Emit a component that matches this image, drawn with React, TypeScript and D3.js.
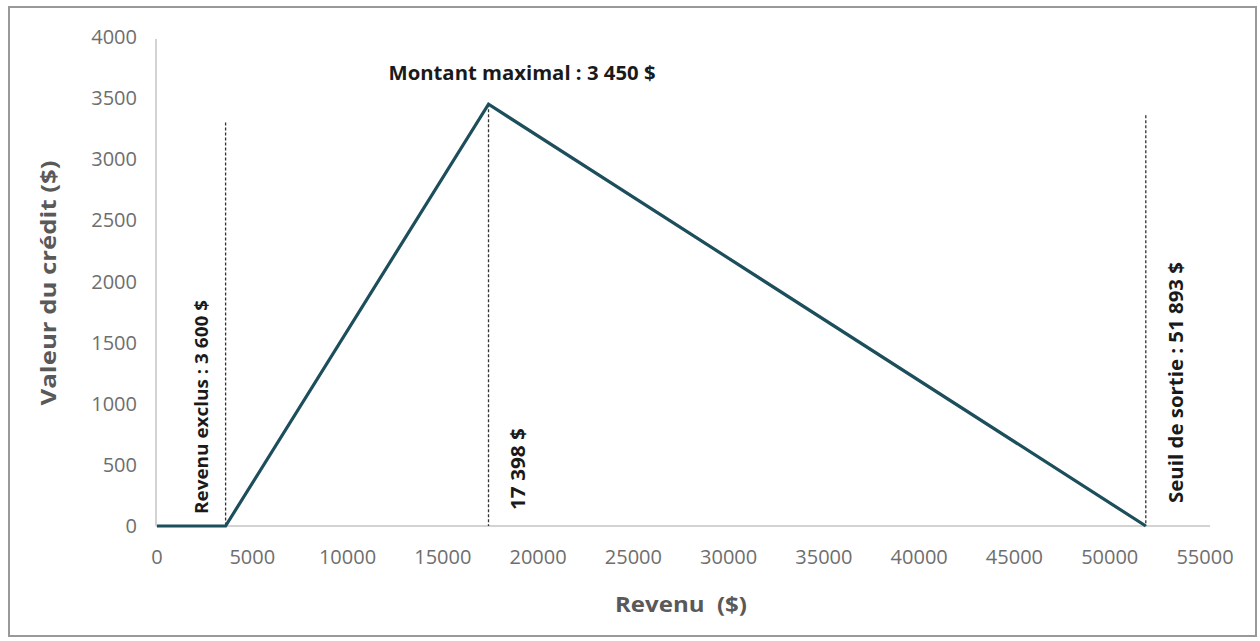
import React from "react";
import * as d3 from "d3";

const incomes = [0, 3600, 17398, 51893];
const credits = [0, 0, 3450, 0];

const refX = [3600, 17398, 51893];
const refTop = [3300, 3450, 3360];
const refLabels = ["Revenu exclus : 3 600 $", "17 398 $", "Seuil de sortie : 51 893 $"];

const xTicks = d3.range(0, 55001, 5000);
const yTicks = d3.range(0, 4001, 500);

const peakLabel = "Montant maximal : 3 450 $";
const xTitle = "Revenu  ($)";
const yTitle = "Valeur du crédit ($)";

const W = 1260;
const H = 641;

export default function App() {
  const x = d3.scaleLinear().domain([0, 55000]).range([157, 1205]);
  const y = d3.scaleLinear().domain([0, 4000]).range([526, 37]);
  const pts = incomes.map((v, i) => [x(v), y(credits[i])] as [number, number]);
  const line = d3.line()(pts) || "";
  const font = "'Open Sans', 'DejaVu Sans', sans-serif";

  return (
    <svg width={W} height={H} style={{ position: "absolute", left: 0, top: 0, background: "#fff" }} fontFamily={font}>
      <rect x={0} y={0} width={W} height={H} fill="#fff" />
      <rect x={9} y={7} width={1247} height={629} fill="none" stroke="#999" strokeWidth={2} />
      {/* axes */}
      <line x1={156} x2={156} y1={39} y2={526} stroke="#c4c4c4" strokeWidth={1.5} />
      <line x1={156} x2={1210} y1={526} y2={526} stroke="#c4c4c4" strokeWidth={1.5} />
      {yTicks.map((t) => (
        <text key={"y" + t} x={137} y={y(t)} dy="0.35em" textAnchor="end" fontSize={20} fill="#6e6e6e">
          {t}
        </text>
      ))}
      {xTicks.map((t) => (
        <text key={"x" + t} x={x(t)} y={557} dy="0.35em" textAnchor="middle" fontSize={20} fill="#6e6e6e">
          {t}
        </text>
      ))}
      {/* reference dashed lines */}
      {refX.map((v, i) => (
        <line
          key={"r" + i}
          x1={x(v)}
          x2={x(v)}
          y1={y(refTop[i])}
          y2={y(0)}
          stroke="#333"
          strokeWidth={1.3}
          strokeDasharray="3,2"
        />
      ))}
      <path d={line} fill="none" stroke="#1d4e5b" strokeWidth={3.2} strokeLinejoin="miter" />
      {/* annotations */}
      <text x={522} y={80} textAnchor="middle" fontSize={19} fontWeight="bold" fill="#1a1a1a" textLength={267} lengthAdjust="spacingAndGlyphs">
        {peakLabel}
      </text>
      <text transform={`translate(208,514) rotate(-90)`} fontSize={18} fontWeight="bold" fill="#1a1a1a" textLength={214} lengthAdjust="spacingAndGlyphs">
        {refLabels[0]}
      </text>
      <text transform={`translate(525,510) rotate(-90)`} fontSize={19} fontWeight="bold" fill="#1a1a1a" textLength={82} lengthAdjust="spacingAndGlyphs">
        {refLabels[1]}
      </text>
      <text transform={`translate(1183,503) rotate(-90)`} fontSize={19} fontWeight="bold" fill="#1a1a1a" textLength={241} lengthAdjust="spacingAndGlyphs">
        {refLabels[2]}
      </text>
      {/* axis titles */}
      <text x={681} y={612} textAnchor="middle" fontSize={22} fontWeight="bold" fill="#595959" textLength={132} lengthAdjust="spacingAndGlyphs" style={{ whiteSpace: "pre" }}>
        {xTitle}
      </text>
      <text transform={`translate(56,283) rotate(-90)`} textAnchor="middle" fontSize={22} fontWeight="bold" fill="#595959" textLength={245} lengthAdjust="spacingAndGlyphs">
        {yTitle}
      </text>
    </svg>
  );
}
